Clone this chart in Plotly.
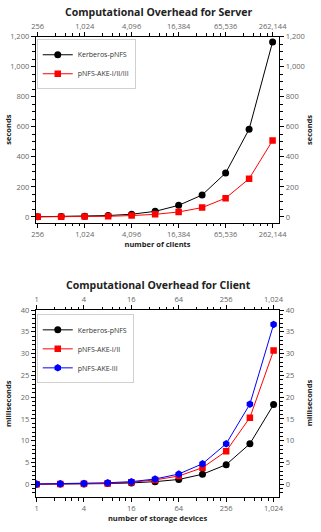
import plotly.graph_objects as go

# ---------------- data ----------------
clients = [256, 512, 1024, 2048, 4096, 8192, 16384, 32768, 65536, 131072, 262144]
server_kerberos = [1, 2, 4, 9, 18, 37, 77, 146, 292, 584, 1165]
server_ake = [0.5, 1, 2, 4, 9, 17, 33, 62, 125, 254, 509]

devices = [1, 2, 4, 8, 16, 32, 64, 128, 256, 512, 1024]
client_kerberos = [0.02, 0.04, 0.08, 0.15, 0.3, 0.6, 1.1, 2.3, 4.5, 9.3, 18.3]
client_ake12 = [0.02, 0.05, 0.1, 0.2, 0.45, 1.0, 1.9, 3.8, 7.6, 15.3, 30.7]
client_ake3 = [0.05, 0.1, 0.2, 0.35, 0.6, 1.2, 2.35, 4.7, 9.3, 18.4, 36.7]

server_xticks = [256, 1024, 4096, 16384, 65536, 262144]
server_xlabels = ["256", "1,024", "4,096", "16,384", "65,536", "262,144"]
server_yticks = [0, 200, 400, 600, 800, 1000, 1200]
server_ylabels = ["0", "200", "400", "600", "800", "1,000", "1,200"]

client_xticks = [1, 4, 16, 64, 256, 1024]
client_xlabels = ["1", "4", "16", "64", "256", "1,024"]
client_yticks = [0, 5, 10, 15, 20, 25, 30, 35, 40]
client_ylabels = [str(v) for v in client_yticks]

# ---------------- style ----------------
FONT = "Open Sans"
TICKC = "#666666"
TICKF = dict(family=FONT, size=7.5, color=TICKC)
AXT = dict(family=FONT, size=7.5, color="#222222")
TITLEF = dict(family=FONT, size=10.5, color="#222222")

dom_x = [0.1028, 0.891]
dom_top = [0.5865, 0.9398]
dom_bot = [0.0658, 0.4211]


def minor_vals(majors, ks):
    out = []
    for m in majors[:-1]:
        for k in ks:
            out.append(m * k)
    return out


fig = go.Figure()

# --- server chart ---
fig.add_trace(go.Scatter(x=clients, y=server_kerberos, name="Kerberos-pNFS",
                         mode="lines+markers", xaxis="x", yaxis="y",
                         line=dict(color="black", width=1),
                         marker=dict(symbol="circle", size=7, color="black"),
                         legend="legend"))
fig.add_trace(go.Scatter(x=clients, y=server_ake, name="pNFS-AKE-I/II/III",
                         mode="lines+markers", xaxis="x", yaxis="y",
                         line=dict(color="#ff0000", width=1),
                         marker=dict(symbol="square", size=6.5, color="#ff0000"),
                         legend="legend"))
fig.add_trace(go.Scatter(x=clients, y=server_ake, xaxis="x2", yaxis="y2",
                         mode="markers", marker=dict(opacity=0), showlegend=False,
                         hoverinfo="skip"))

# --- client chart ---
fig.add_trace(go.Scatter(x=devices, y=client_kerberos, name="Kerberos-pNFS",
                         mode="lines+markers", xaxis="x3", yaxis="y3",
                         line=dict(color="black", width=1),
                         marker=dict(symbol="circle", size=7, color="black"),
                         legend="legend2"))
fig.add_trace(go.Scatter(x=devices, y=client_ake12, name="pNFS-AKE-I/II",
                         mode="lines+markers", xaxis="x3", yaxis="y3",
                         line=dict(color="#ff0000", width=1),
                         marker=dict(symbol="square", size=6.5, color="#ff0000"),
                         legend="legend2"))
fig.add_trace(go.Scatter(x=devices, y=client_ake3, name="pNFS-AKE-III",
                         mode="lines+markers", xaxis="x3", yaxis="y3",
                         line=dict(color="#0000ff", width=1),
                         marker=dict(symbol="hexagon", size=7.5, color="#0000ff"),
                         legend="legend2"))
fig.add_trace(go.Scatter(x=devices, y=client_ake3, xaxis="x4", yaxis="y4",
                         mode="markers", marker=dict(opacity=0), showlegend=False,
                         hoverinfo="skip"))

ks = [1.7, 2.3, 2.8, 3.4]

common_x = dict(type="log", showgrid=False, zeroline=False, showline=True,
                linecolor="black", linewidth=1, ticks="outside", ticklen=4,
                tickcolor="black", tickfont=TICKF, tickmode="array")
common_y = dict(showgrid=False, zeroline=False, showline=True,
                linecolor="black", linewidth=1, ticks="outside", ticklen=4,
                tickcolor="black", tickfont=TICKF, tickmode="array")

srv_xr = [2.3835, 5.5049]
srv_yr = [-40, 1200]
cli_xr = [-0.01, 3.083]
cli_yr = [-3, 40]

srv_minor_x = dict(tickvals=minor_vals(server_xticks, ks), ticks="outside",
                   ticklen=2.5, tickcolor="black")
cli_minor_x = dict(tickvals=minor_vals(client_xticks, ks), ticks="outside",
                   ticklen=2.5, tickcolor="black")
srv_minor_y = dict(tickvals=[v for v in range(0, 1200, 50) if v % 200 != 0],
                   ticks="outside", ticklen=2.5, tickcolor="black")
cli_minor_y = dict(tickvals=[v for v in range(-2, 40) if v % 5 != 0],
                   ticks="outside", ticklen=2.5, tickcolor="black")

legend_style = dict(xanchor="left", yanchor="top",
                    bgcolor="rgba(255,255,255,0.9)", bordercolor="#d0d0d0",
                    borderwidth=1,
                    font=dict(family=FONT, size=7, color="#333333"),
                    tracegroupgap=0, itemwidth=30)

fig.update_layout(
    width=321, height=532,
    margin=dict(l=0, r=0, t=0, b=0),
    paper_bgcolor="white", plot_bgcolor="white",
    font=dict(family=FONT, color="#222222"),
    xaxis=dict(common_x, domain=dom_x, anchor="y", range=srv_xr,
               tickvals=server_xticks, ticktext=server_xlabels,
               minor=srv_minor_x,
               title=dict(text="<b>number of clients</b>", font=AXT, standoff=3)),
    xaxis2=dict(common_x, domain=dom_x, anchor="y", overlaying="x", side="top",
                range=srv_xr, tickvals=server_xticks, ticktext=server_xlabels,
                minor=srv_minor_x),
    yaxis=dict(common_y, domain=dom_top, anchor="x", range=srv_yr,
               tickvals=server_yticks, ticktext=server_ylabels,
               minor=srv_minor_y),
    yaxis2=dict(common_y, domain=dom_top, anchor="x", overlaying="y", side="right",
                range=srv_yr, tickvals=server_yticks, ticktext=server_ylabels,
                minor=srv_minor_y),
    xaxis3=dict(common_x, domain=dom_x, anchor="y3", range=cli_xr,
                tickvals=client_xticks, ticktext=client_xlabels,
                minor=cli_minor_x,
                title=dict(text="<b>number of storage devices</b>", font=AXT,
                           standoff=3)),
    xaxis4=dict(common_x, domain=dom_x, anchor="y3", overlaying="x3", side="top",
                range=cli_xr, tickvals=client_xticks, ticktext=client_xlabels,
                minor=cli_minor_x),
    yaxis3=dict(common_y, domain=dom_bot, anchor="x3", range=cli_yr,
                tickvals=client_yticks, ticktext=client_ylabels,
                minor=cli_minor_y),
    yaxis4=dict(common_y, domain=dom_bot, anchor="x3", overlaying="y3", side="right",
                range=cli_yr, tickvals=client_yticks, ticktext=client_ylabels,
                minor=cli_minor_y),
    legend=dict(legend_style, x=0.106, y=0.935),
    legend2=dict(legend_style, x=0.106, y=0.413),
    annotations=[
        dict(text="<b>Computational Overhead for Server</b>", x=0.5, y=1 - 7 / 532,
             xref="paper", yref="paper", showarrow=False, xanchor="center",
             yanchor="middle", font=TITLEF),
        dict(text="<b>Computational Overhead for Client</b>", x=0.5, y=1 - 283 / 532,
             xref="paper", yref="paper", showarrow=False, xanchor="center",
             yanchor="middle", font=TITLEF),
        dict(text="<b>seconds</b>", x=4 / 321, y=1 - 126 / 532, xref="paper",
             yref="paper", showarrow=False, textangle=-90, xanchor="center",
             yanchor="middle", font=AXT),
        dict(text="<b>seconds</b>", x=317 / 321, y=1 - 126 / 532, xref="paper",
             yref="paper", showarrow=False, textangle=-90, xanchor="center",
             yanchor="middle", font=AXT),
        dict(text="<b>milliseconds</b>", x=4 / 321, y=1 - 402 / 532, xref="paper",
             yref="paper", showarrow=False, textangle=-90, xanchor="center",
             yanchor="middle", font=AXT),
        dict(text="<b>milliseconds</b>", x=317 / 321, y=1 - 402 / 532, xref="paper",
             yref="paper", showarrow=False, textangle=-90, xanchor="center",
             yanchor="middle", font=AXT),
    ],
)

fig.write_html("out.html")
